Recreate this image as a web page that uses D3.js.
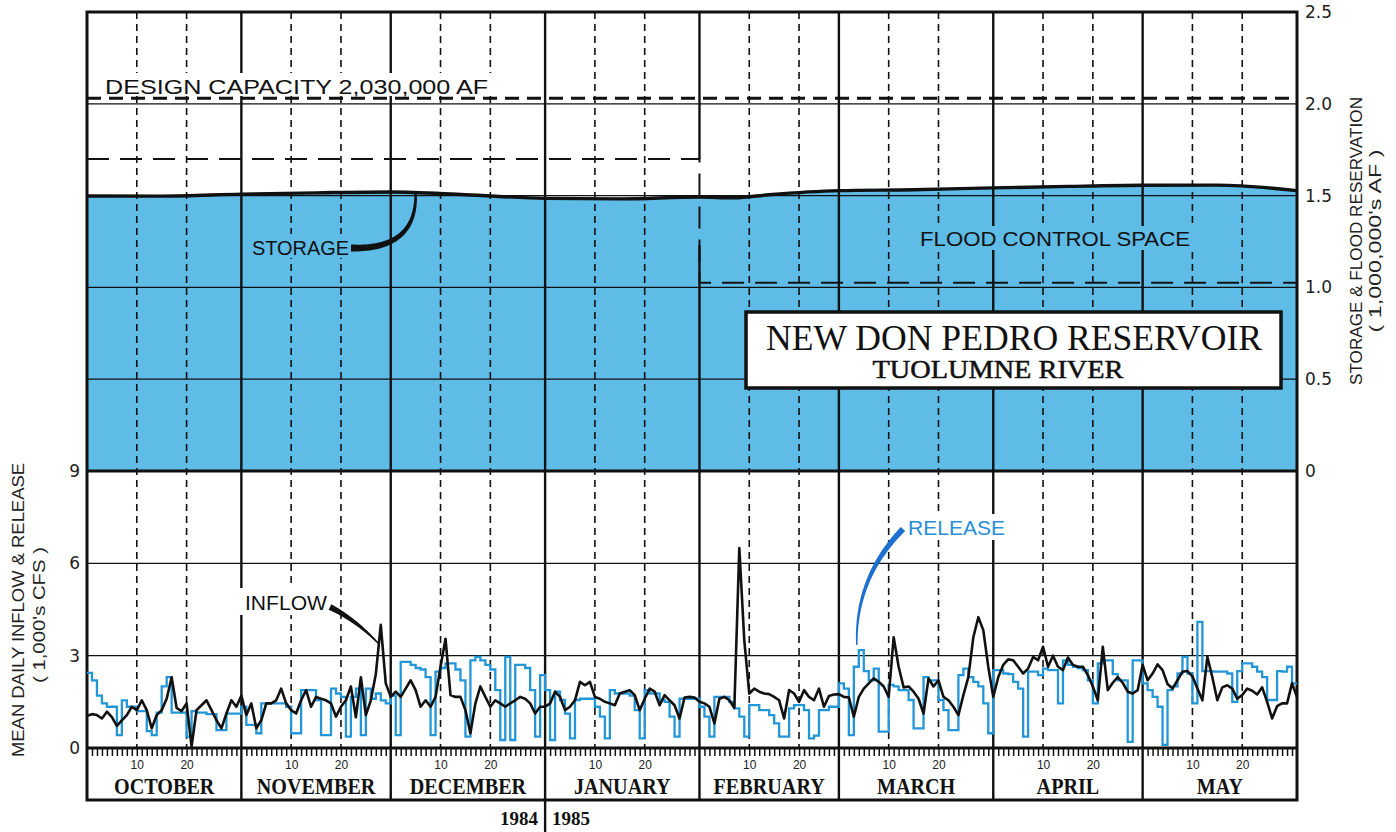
<!DOCTYPE html>
<html><head><meta charset="utf-8">
<script src="https://cdn.jsdelivr.net/npm/d3@7"></script>
<style>body{margin:0;background:#fff;} svg{display:block;}</style>
</head><body>
<svg id="c" width="1396" height="832"></svg>
<script>
// ---------------- DATA ----------------
const months = ["OCTOBER","NOVEMBER","DECEMBER","JANUARY","FEBRUARY","MARCH","APRIL","MAY"];
const monthDays = [31,30,31,31,28,31,30,31];
const dayLabels = [10, 20];
const years = ["1984","1985"];

// mean daily inflow (1,000's cfs), one sample per day boundary Oct 1 .. May 31
const inflow = [
 1.05,1.1,1.07,0.96,1.18,1.0,0.72,0.9,1.07,1.34,1.23,1.55,1.23,0.64,1.07,1.23,1.6,2.3,1.3,1.2,1.45,0.05,1.23,1.39,1.55,1.23,0.9,0.64,1.12,1.55,1.34,
 1.7,1.07,1.45,0.64,0.9,1.45,1.45,1.55,1.93,1.45,1.23,1.12,1.55,1.88,1.34,1.66,1.6,1.55,1.45,1.02,1.34,1.55,2.0,1.0,2.3,1.07,1.55,2.4,4.0,2.1,
 1.66,1.83,1.66,1.93,2.2,1.88,1.34,1.55,1.34,1.66,2.64,3.55,1.72,1.66,1.66,1.23,0.48,1.45,2.0,1.66,1.34,1.55,1.45,1.34,1.45,1.55,1.66,1.6,1.45,1.12,1.34,
 1.34,1.45,1.83,1.66,1.23,1.34,1.55,2.15,2.04,2.15,1.66,1.6,1.5,1.45,1.39,1.77,1.83,1.88,1.72,1.23,1.6,1.93,1.83,1.39,1.72,1.55,1.39,0.96,1.64,1.66,1.64,
 1.5,1.45,1.34,0.8,1.6,1.66,1.55,1.3,6.5,3.5,1.77,1.93,1.83,1.77,1.75,1.66,1.55,0.96,1.88,1.77,1.5,1.88,1.66,1.55,1.93,1.34,1.69,1.74,
 1.75,1.66,1.64,1.02,1.66,1.93,2.1,2.26,2.15,2.0,1.66,3.6,2.64,1.97,2.0,1.83,1.6,1.12,2.26,2.0,2.2,1.66,1.55,1.34,1.07,1.72,2.3,3.6,4.25,3.83,2.64,
 1.66,2.3,2.7,2.88,2.85,2.64,2.42,2.58,2.96,2.85,3.29,2.64,3.0,2.64,2.53,2.94,2.7,2.64,2.64,2.37,2.0,1.55,3.29,1.88,2.12,2.3,2.12,1.83,1.77,1.88,
 2.7,2.2,2.42,2.72,2.53,2.08,1.93,2.2,2.48,2.5,2.33,1.93,1.55,2.96,2.3,1.55,1.97,2.04,1.93,1.6,1.72,1.93,1.86,1.74,1.97,1.5,0.96,1.36,1.45,1.45,2.1,1.66
];

// mean daily release (1,000's cfs), one value per day
const release = [
 2.44,2.2,1.7,1.45,1.34,1.34,0.42,1.55,1.34,1.34,1.2,1.2,0.55,0.42,1.15,2.0,2.3,1.15,1.15,1.15,0.37,1.2,1.15,1.15,1.1,1.1,0.58,0.58,1.12,1.12,1.12,
 1.34,0.75,0.75,0.48,1.45,1.45,1.45,1.45,1.45,1.34,0.48,0.48,1.88,1.88,1.88,1.56,0.42,0.42,1.93,1.77,1.66,0.37,1.66,1.93,0.42,1.93,1.6,1.77,1.55,1.45,
 1.7,0.42,2.8,2.8,2.7,2.6,2.55,2.3,0.42,2.48,2.6,2.75,2.75,2.55,2.2,0.37,2.85,2.96,2.85,2.7,2.55,1.88,0.26,2.96,0.26,2.7,2.7,2.6,1.88,0.37,2.37,
 1.88,0.26,1.83,1.56,1.12,0.31,1.56,1.6,1.6,1.6,1.34,1.02,0.31,1.88,1.77,1.77,1.77,1.7,1.23,0.31,1.88,1.77,1.77,1.56,1.5,1.02,0.37,1.6,1.6,1.6,1.6,
 1.34,1.02,0.37,1.66,1.66,1.66,1.5,1.29,1.02,0.37,1.39,1.39,1.23,1.23,1.07,0.8,0.37,0.37,1.29,1.39,1.39,1.23,0.31,0.4,1.23,1.23,1.34,1.34,
 2.1,1.93,0.42,2.64,3.18,2.5,2.2,2.58,0.53,0.53,2.05,2.0,1.88,1.88,1.56,0.64,0.64,2.3,2.2,2.2,1.56,1.23,0.58,0.58,2.37,2.58,2.3,2.15,2.0,1.45,0.48,
 2.53,2.53,2.42,2.4,2.15,1.93,0.37,2.48,2.48,2.37,2.58,2.53,2.53,1.45,2.85,2.7,2.64,2.6,2.53,2.2,1.45,2.75,2.85,2.85,2.4,2.2,2.2,0.2,2.85,2.85,
 2.1,1.88,1.66,1.34,0.1,1.88,2.0,2.42,2.96,2.42,1.45,4.1,2.5,2.5,2.48,2.48,2.48,2.42,1.5,2.5,2.75,2.75,2.64,2.48,2.3,1.56,1.56,2.5,2.48,2.64,2.1
];

// end-of-period storage (1,000,000's AF)
const storageDay   = [0,15,31,46,61,76,92,107,123,130,137,151,166,182,197,212,227,243];
const storageValue = [1.498,1.497,1.508,1.515,1.52,1.505,1.485,1.482,1.492,1.488,1.505,1.527,1.532,1.542,1.55,1.556,1.557,1.527];

const storageTicks = [0,0.5,1.0,1.5,2.0,2.5];
const storageTickLabels = ["0","0.5","1.0","1.5","2.0","2.5"];
const flowTicks = [0,3,6,9];
const designCapacity = 2.03;
const floodDay   = [0,123,123,243];
const floodValue = [1.70,1.70,1.025,1.025];

(function(){
// ---------------- LAYOUT ----------------
const BLUE = "#5ebce7", RELBLUE = "#2396d7", LEADBLUE = "#1d6fd0";
const SANS = "'Liberation Sans','DejaVu Sans',Arial,sans-serif";
const SERIF = "'Liberation Serif','DejaVu Serif',serif";
const pL = 87, pR = 1297, pT = 12, pM = 471, pB = 748, pBox = 800;
const totalDays = d3.sum(monthDays);
const monthStart = Array.from(d3.cumsum([0, ...monthDays]));   // 0,31,...,243

const x  = d3.scaleLinear().domain([0, totalDays]).range([pL, pR]);
const yS = d3.scaleLinear().domain([0, 2.5]).range([pM, pT]);
const yF = d3.scaleLinear().domain([0, 9]).range([pB, pM]);

const svg = d3.select("#c");
svg.append("rect").attr("width",1396).attr("height",832).attr("fill","#fff");

// storage fill
const storage = storageDay.map((d,i)=>({d, v: storageValue[i]}));
svg.append("path").datum(storage)
  .attr("d", d3.area().x(d=>x(d.d)).y0(yS(0)).y1(d=>yS(d.v)).curve(d3.curveMonotoneX))
  .attr("fill", BLUE);

// horizontal grid
const grid = svg.append("g").attr("stroke","#111").attr("stroke-width",1.3);
grid.selectAll(".hs").data(storageTicks.filter(v=>v>0 && v<2.5)).join("line")
  .attr("x1",pL).attr("x2",pR).attr("y1",d=>yS(d)).attr("y2",d=>yS(d));
grid.selectAll(".hf").data(flowTicks.filter(v=>v>0 && v<9)).join("line")
  .attr("x1",pL).attr("x2",pR).attr("y1",d=>yF(d)).attr("y2",d=>yF(d));

// dashed day-10 / day-20 verticals
const dashDays = [];
monthStart.slice(0,-1).forEach(s => dayLabels.forEach(dl => dashDays.push({d: s+dl, lab: dl})));
svg.append("g").selectAll("line").data(dashDays).join("line")
  .attr("x1",d=>x(d.d)).attr("x2",d=>x(d.d)).attr("y1",pT).attr("y2",pB)
  .attr("stroke","#111").attr("stroke-width",1.6).attr("stroke-dasharray","7,5");

// month lines (the line at the flood-reservation change is broken where the reservation drops)
const monthSegs = [];
monthStart.slice(1,-1).forEach(d=>{
  if (d === floodDay[1]) {
    monthSegs.push({d, y1: pT, y2: yS(floodValue[1])});
    monthSegs.push({d, y1: yS(1.23), y2: pBox});
  } else monthSegs.push({d, y1: pT, y2: pBox});
});
svg.append("g").selectAll("line").data(monthSegs).join("line")
  .attr("x1",s=>x(s.d)).attr("x2",s=>x(s.d)).attr("y1",s=>s.y1).attr("y2",s=>s.y2)
  .attr("stroke","#111").attr("stroke-width",2.4);

// flood control reservation
svg.append("path")
  .attr("d", d3.line()(floodDay.map((d,i)=>[x(d), yS(floodValue[i])])))
  .attr("fill","none").attr("stroke","#111").attr("stroke-width",2).attr("stroke-dasharray","22,11");

// text backgrounds in the upper panel
svg.append("rect").attr("x",99).attr("y",73).attr("width",395).attr("height",23).attr("fill","#fff");
svg.append("rect").attr("x",247).attr("y",234).attr("width",106).attr("height",24).attr("fill",BLUE);
svg.append("rect").attr("x",914).attr("y",226).attr("width",282).attr("height",24).attr("fill",BLUE);

// design capacity
svg.append("line").attr("x1",pL).attr("x2",pR).attr("y1",yS(designCapacity)).attr("y2",yS(designCapacity))
  .attr("stroke","#111").attr("stroke-width",3).attr("stroke-dasharray","14,8");

// storage line
svg.append("path").datum(storage)
  .attr("d", d3.line().x(d=>x(d.d)).y(d=>yS(d.v)).curve(d3.curveMonotoneX))
  .attr("fill","none").attr("stroke","#111").attr("stroke-width",3.4);

// separators & frame
svg.append("line").attr("x1",pL).attr("x2",pR).attr("y1",pM).attr("y2",pM).attr("stroke","#111").attr("stroke-width",3);
svg.append("line").attr("x1",pL).attr("x2",pR).attr("y1",pB).attr("y2",pB).attr("stroke","#111").attr("stroke-width",3);
svg.append("rect").attr("x",pL).attr("y",pT).attr("width",pR-pL).attr("height",pBox-pT)
  .attr("fill","none").attr("stroke","#111").attr("stroke-width",3);
svg.append("line").attr("x1",x(monthStart[3])).attr("x2",x(monthStart[3])).attr("y1",pBox).attr("y2",832)
  .attr("stroke","#111").attr("stroke-width",2.4);

// release (step) and inflow
const relPts = release.map((v,i)=>[i,v]); relPts.push([release.length, release[release.length-1]]);
svg.append("path")
  .attr("d", d3.line().x(d=>x(d[0])).y(d=>yF(d[1])).curve(d3.curveStepAfter)(relPts))
  .attr("fill","none").attr("stroke",RELBLUE).attr("stroke-width",2.3);
svg.append("path")
  .attr("d", d3.line().x((d,i)=>x(i)).y(d=>yF(d))(inflow))
  .attr("fill","none").attr("stroke","#111").attr("stroke-width",2.6).attr("stroke-linejoin","round");

// day ticks (axis)
const tickDays = d3.range(1,totalDays).filter(d=>!monthStart.includes(d));
const axB = svg.append("g").attr("transform",`translate(0,${pB})`)
  .call(d3.axisBottom(x).tickValues(tickDays).tickSize(8).tickFormat(""));
axB.select(".domain").remove();
axB.selectAll("line").attr("stroke","#111").attr("stroke-width",1.5);
// day labels
const axD = svg.append("g").attr("transform",`translate(0,${pB})`)
  .call(d3.axisBottom(x).tickValues(dashDays.map(d=>d.d)).tickSize(0).tickPadding(12)
        .tickFormat((d,i)=>String(dashDays[i].lab)));
axD.select(".domain").remove();
axD.selectAll("text").attr("font-family",SANS).attr("font-size",12).attr("fill","#222");

// month labels
months.forEach((m,i)=>{
  const cx = x((monthStart[i]+monthStart[i+1])/2);
  svg.append("text").attr("transform",`translate(${cx},794) scale(0.84,1)`)
    .attr("text-anchor","middle").attr("font-family",SERIF).attr("font-weight","bold")
    .attr("font-size",24).attr("fill","#111").text(m);
});
// years
svg.append("text").attr("x",x(monthStart[3])-7).attr("y",825).attr("text-anchor","end")
  .attr("font-family",SERIF).attr("font-weight","bold").attr("font-size",19).attr("fill","#111").text(years[0]);
svg.append("text").attr("x",x(monthStart[3])+7).attr("y",825).attr("text-anchor","start")
  .attr("font-family",SERIF).attr("font-weight","bold").attr("font-size",19).attr("fill","#111").text(years[1]);

// right axis
const axRg = svg.append("g").attr("transform",`translate(${pR},0)`)
  .call(d3.axisRight(yS).tickValues(storageTicks).tickSize(0).tickPadding(8)
        .tickFormat((d,i)=>storageTickLabels[i]));
axRg.select(".domain").remove();
axRg.selectAll("text").attr("font-family","'DejaVu Sans',sans-serif").attr("font-size",17).attr("fill","#222");
// left axis
const axLg = svg.append("g").attr("transform",`translate(${pL},0)`)
  .call(d3.axisLeft(yF).tickValues(flowTicks).tickSize(0).tickPadding(7).tickFormat(d3.format("d")));
axLg.select(".domain").remove();
axLg.selectAll("text").attr("font-family","'DejaVu Sans',sans-serif").attr("font-size",17).attr("fill","#222");

// axis titles
function vtext(xp, yc, str, len, size){
  svg.append("text").attr("transform",`translate(${xp},${yc}) rotate(-90)`)
    .attr("text-anchor","middle").attr("font-family",SANS).attr("font-size",size).attr("fill","#222")
    .attr("textLength",len).attr("lengthAdjust","spacingAndGlyphs").text(str);
}
vtext(1362, 241, "STORAGE & FLOOD RESERVATION", 288, 16);
vtext(1381, 241, "( 1,000,000's AF )", 183, 16);
vtext(24, 610, "MEAN DAILY INFLOW & RELEASE", 294, 16);
vtext(45, 615, "( 1,000's CFS )", 136, 16);

// labels
function label(xp, yp, str, len, fill){
  svg.append("text").attr("x",xp).attr("y",yp).attr("font-family",SANS).attr("font-size",21)
    .attr("fill",fill||"#111").attr("textLength",len).attr("lengthAdjust","spacingAndGlyphs").text(str);
}
label(105, 94, "DESIGN CAPACITY 2,030,000 AF", 383);
label(252, 255, "STORAGE", 97);
label(920, 246, "FLOOD CONTROL SPACE", 270);
svg.append("rect").attr("x",238).attr("y",588).attr("width",93).attr("height",27).attr("fill","#fff");
label(245, 610, "INFLOW", 82);
svg.append("rect").attr("x",904).attr("y",514).attr("width",106).attr("height",26).attr("fill","#fff");
label(908, 535, "RELEASE", 97, "#2a8ed8");

// title box
svg.append("rect").attr("x",746).attr("y",312).attr("width",535).attr("height",76)
  .attr("fill","#fff").attr("stroke","#111").attr("stroke-width",3.5);
svg.append("text").attr("x",1014).attr("y",350).attr("text-anchor","middle").attr("font-family",SERIF)
  .attr("font-size",35).attr("fill","#111").attr("textLength",496).attr("lengthAdjust","spacingAndGlyphs")
  .text("NEW DON PEDRO RESERVOIR");
svg.append("text").attr("x",998).attr("y",378).attr("text-anchor","middle").attr("font-family",SERIF)
  .attr("font-size",25).attr("fill","#111").attr("stroke","#111").attr("stroke-width",0.5)
  .attr("textLength",251).attr("lengthAdjust","spacingAndGlyphs")
  .text("TUOLUMNE RIVER");

// tapered leaders
function taper(p0, c, p2, w0, w2){
  const N = 40, Lp = [], Rp = [];
  for (let k=0;k<=N;k++){
    const t=k/N, mt=1-t;
    const px = mt*mt*p0[0]+2*mt*t*c[0]+t*t*p2[0];
    const py = mt*mt*p0[1]+2*mt*t*c[1]+t*t*p2[1];
    const dx = 2*mt*(c[0]-p0[0])+2*t*(p2[0]-c[0]);
    const dy = 2*mt*(c[1]-p0[1])+2*t*(p2[1]-c[1]);
    const len = Math.hypot(dx,dy)||1, nx=-dy/len, ny=dx/len, w=(w0+(w2-w0)*t)/2;
    Lp.push([px+nx*w,py+ny*w]); Rp.push([px-nx*w,py-ny*w]);
  }
  return d3.line()(Lp.concat(Rp.reverse()))+"Z";
}
svg.append("path").attr("d",taper([351,248],[x(66)+1,250],[x(66),yS(1.52)+2],7,2.5)).attr("fill","#111");
svg.append("path").attr("d",taper([330,607],[356,620],[x(58.5),yF(3.4)],6,1.5)).attr("fill","#111");
svg.append("path").attr("d",taper([903,529],[855,578],[x(154.6),yF(3.35)],6,1.5)).attr("fill",LEADBLUE);
})();
</script>
</body></html>
